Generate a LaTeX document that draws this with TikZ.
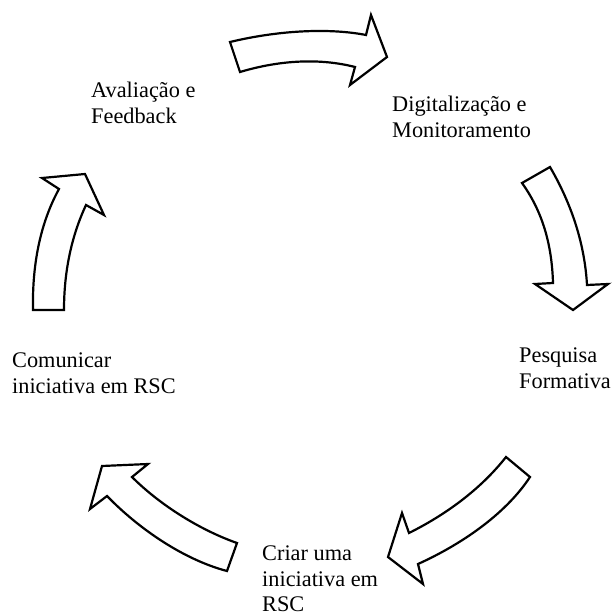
\documentclass[tikz,border=0pt]{standalone}
\usepackage{fontspec}
\setmainfont{Liberation Serif}
\begin{document}
\begin{tikzpicture}[x=1pt,y=-1pt,
  cyclearrow/.style={draw=black,line width=2.2pt,fill=white,line join=miter},
  steplabel/.style={anchor=base west,inner sep=0pt,align=left,
    font=\fontsize{22.3}{25.5}\selectfont}]
\useasboundingbox (0,0) rectangle (611,615);

% stage labels (placed by the baseline of their last line)
\node[steplabel] (aval) at (91,123) {Avaliação e\\Feedback};
\node[steplabel] (digit) at (392,137) {Digitalização e\\Monitoramento};
\node[steplabel] (pesq) at (519,388) {Pesquisa\\Formativa};
\node[steplabel] (criar) at (262,611.5) {Criar uma\\iniciativa em\\RSC};
\node[steplabel] (comun) at (12,393) {Comunicar\\iniciativa em RSC};

% top arrow, pointing right
\draw[cyclearrow] (230,42) .. controls (280,30) and (330,28) .. (366,35)
  -- (371,15) -- (387,57) -- (350,85) -- (355,67)
  .. controls (320,58) and (280,60) .. (240,72) -- cycle;

% right arrow, pointing down
\draw[cyclearrow] (550,167) .. controls (575,210) and (585,250) .. (587,285)
  -- (608,284) -- (573,310) -- (535,284) -- (553,283)
  .. controls (552,250) and (545,215) .. (522,183) -- cycle;

% lower right arrow, pointing down-left
\draw[cyclearrow] (506,457) .. controls (480,490) and (445,515) .. (409,533)
  -- (402,513) -- (388,557) -- (423,584) -- (418,564)
  .. controls (460,545) and (505,515) .. (530,477) -- cycle;

% lower left arrow, pointing up-left
\draw[cyclearrow] (237,543) .. controls (200,530) and (160,505) .. (132,477)
  -- (148,464) -- (102,466) -- (90,509) -- (107,496)
  .. controls (140,530) and (185,560) .. (227,571) -- cycle;

% left arrow, pointing up
\draw[cyclearrow] (33,310) .. controls (32,260) and (42,220) .. (59,189)
  -- (42,178) -- (85,174) -- (104,215) -- (86,205)
  .. controls (72,235) and (64,270) .. (64,310) -- cycle;
\end{tikzpicture}
\end{document}
